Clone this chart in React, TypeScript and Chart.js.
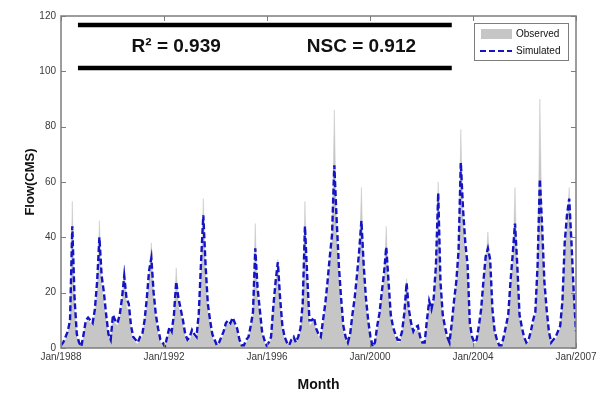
import { useEffect, useRef } from 'react';
import { Chart, registerables } from 'chart.js';

Chart.register(...registerables);

const xTickLabels = ['Jan/1988', 'Jan/1992', 'Jan/1996', 'Jan/2000', 'Jan/2004', 'Jan/2007'];
const seriesNames = ['Observed', 'Simulated'];
const r2Text = 'R\u00B2 = 0.939';
const nscText = 'NSC = 0.912';
const xTitle = 'Month';
const yTitle = 'Flow(CMS)';

// Monthly flow, Jan 1988 .. Jan 2007 (229 months)
const observed = [
  0.5, 1.5, 3, 5, 9, 53, 14, 4, 1.5, 0.5, 4, 9,
  10, 9, 8, 12, 20, 46, 22, 16, 10, 4, 2, 10,
  9, 8, 11, 15, 30, 15, 13, 6, 3, 2, 1.5, 3,
  4, 9, 15, 25, 38, 17, 10, 5, 2, 1.5, 0.5, 3,
  6, 5, 10, 29, 15, 12, 8, 4, 2, 3, 5, 4,
  3, 10, 27, 54, 26, 13, 8, 4, 2, 1, 1.5, 3,
  5, 8, 9, 8, 10, 8, 6, 2, 1, 1, 2, 3,
  7, 11, 45, 18, 11, 5, 2, 1, 1.5, 3, 13, 22,
  32, 15, 6, 3, 1.5, 1, 2, 3, 1.5, 3, 6, 14,
  53, 22, 8, 9, 10, 6, 4, 3, 8, 14, 21, 30,
  38, 86, 42, 26, 15, 6, 3, 1.5, 4, 10, 15, 23,
  31, 58, 26, 15, 8, 3, 0.5, 1.5, 6, 11, 18, 24,
  44, 20, 10, 6, 4, 2, 2, 5, 11, 25, 12, 8,
  5, 6, 7, 3, 1.5, 1.5, 8, 15, 12, 16, 27, 60,
  20, 10, 6, 3, 1.5, 8, 15, 22, 32, 79, 46, 34,
  26, 7, 3, 1.5, 2, 7, 12, 22, 30, 42, 28, 12,
  5, 2, 1, 1, 3, 7, 10, 21, 30, 58, 26, 10,
  6, 3, 1.5, 2, 5, 8, 11, 27, 90, 40, 20, 12,
  5, 1.5, 2, 3, 5, 7, 15, 34, 44, 58, 34, 17,
  5,
];

const simulated = [
  1, 2, 4, 6, 10, 44, 18, 5, 2, 0.5, 5, 10,
  11, 10, 9, 14, 24, 40, 26, 20, 12, 5, 3, 12,
  10, 9, 12, 18, 26, 18, 16, 8, 4, 3, 2, 4,
  5, 10, 18, 28, 32.5, 20, 12, 7, 3, 2, 0.5, 4,
  7.5, 6, 12, 24, 18, 14, 10, 5, 3, 4, 6.5, 5,
  4, 12.6, 31, 48, 30, 16, 10, 5, 3, 1, 2, 4,
  6, 9, 10, 9, 11, 9, 7, 3, 1, 1, 3, 4,
  8, 13, 36, 22, 14, 6, 3, 1, 2, 4, 15, 24,
  31, 18, 8, 4, 2, 1, 3, 4, 2, 4, 7, 16,
  44, 26, 10, 10, 11, 7, 5, 4, 10, 16, 24, 33,
  41, 66, 47, 30, 18, 8, 4, 2, 5, 12, 18, 26,
  35, 46, 30, 18, 10, 4, 0.5, 2, 8, 12.6, 20, 27,
  36.5, 24, 12, 7.6, 5, 3, 3, 6, 12.6, 23.5, 14, 9,
  6, 7.6, 8, 4, 2, 2, 10, 17, 14, 18, 30, 56,
  24, 12, 7.6, 4, 2, 9, 17, 24, 35, 67, 50, 38,
  30, 9, 4, 2, 3, 8, 14, 24, 33, 36, 32, 14,
  6, 3, 1, 1, 4, 8, 12, 24, 34, 45, 30, 12,
  7.6, 4, 2, 3, 6, 10, 13, 30, 61, 44, 24, 14,
  6, 2, 3, 4, 6, 8, 17, 38, 48, 54, 38, 20,
  6,
];

const GREY_FILL = 'rgb(198,198,198)';
const BLUE = '#1414c4';
const AXIS = '#7d7d7d';

const framePlugin = {
  id: 'frame',
  afterDatasetsDraw(chart: any) {
    const { ctx, chartArea: a, scales } = chart;
    const x = scales.x;
    const y = scales.y;
    ctx.save();

    // annotation bars + stats text
    ctx.strokeStyle = '#000';
    ctx.lineWidth = 4.5;
    ctx.lineCap = 'butt';
    const x0 = x.getPixelForValue(7.5);
    const x1 = x.getPixelForValue(173);
    [116.7, 101.2].forEach((v) => {
      const py = Math.round(y.getPixelForValue(v));
      ctx.beginPath();
      ctx.moveTo(x0, py);
      ctx.lineTo(x1, py);
      ctx.stroke();
    });
    ctx.fillStyle = '#111';
    ctx.font = 'bold 19px "Liberation Sans", Arial, sans-serif';
    ctx.textAlign = 'center';
    ctx.textBaseline = 'middle';
    const ty = y.getPixelForValue(108.9);
    ctx.fillText(r2Text, x.getPixelForValue(51), ty);
    ctx.fillText(nscText, x.getPixelForValue(133), ty);

    // frame box
    ctx.strokeStyle = AXIS;
    ctx.lineWidth = 1.5;
    ctx.strokeRect(a.left, a.top, a.right - a.left, a.bottom - a.top);
    ctx.lineWidth = 1;
    ctx.beginPath();
    x.ticks.forEach((t: any) => {
      const px = Math.round(x.getPixelForValue(t.value)) + 0.5;
      ctx.moveTo(px, a.top);
      ctx.lineTo(px, a.top + 5);
      ctx.moveTo(px, a.bottom);
      ctx.lineTo(px, a.bottom - 5);
    });
    y.ticks.forEach((t: any) => {
      const py = Math.round(y.getPixelForValue(t.value)) + 0.5;
      ctx.moveTo(a.left, py);
      ctx.lineTo(a.left + 5, py);
      ctx.moveTo(a.right, py);
      ctx.lineTo(a.right - 5, py);
    });
    ctx.stroke();

    // legend
    const lw = 94;
    const lh = 37;
    const lx = a.right - 8 - lw;
    const ly = a.top + 7;
    ctx.fillStyle = '#fff';
    ctx.fillRect(lx, ly, lw, lh);
    ctx.strokeStyle = AXIS;
    ctx.lineWidth = 1;
    ctx.strokeRect(lx + 0.5, ly + 0.5, lw, lh);
    ctx.fillStyle = GREY_FILL;
    ctx.fillRect(lx + 7, ly + 6, 31, 10);
    ctx.strokeStyle = BLUE;
    ctx.lineWidth = 2;
    ctx.setLineDash([6, 3]);
    ctx.beginPath();
    ctx.moveTo(lx + 6, ly + 28);
    ctx.lineTo(lx + 38, ly + 28);
    ctx.stroke();
    ctx.setLineDash([]);
    ctx.fillStyle = '#111';
    ctx.font = '10px "Liberation Sans", Arial, sans-serif';
    ctx.textAlign = 'left';
    ctx.textBaseline = 'middle';
    ctx.fillText(seriesNames[0], lx + 42, ly + 11);
    ctx.fillText(seriesNames[1], lx + 42, ly + 28);

    ctx.restore();
  },
};

export default function App() {
  const ref = useRef<HTMLCanvasElement | null>(null);

  useEffect(() => {
    if (!ref.current) return;
    const nMax = observed.length - 1;
    const chart = new Chart(ref.current, {
      type: 'line',
      data: {
        datasets: [
          {
            label: seriesNames[1],
            data: simulated.map((v, i) => ({ x: i, y: v })),
            borderColor: BLUE,
            borderWidth: 2.4,
            borderDash: [6, 3],
            pointRadius: 0,
            fill: false,
            tension: 0,
            order: 0,
          },
          {
            label: seriesNames[0],
            data: observed.map((v, i) => ({ x: i, y: v })),
            borderColor: GREY_FILL,
            backgroundColor: GREY_FILL,
            borderWidth: 0.5,
            pointRadius: 0,
            fill: 'origin',
            tension: 0,
            order: 1,
          },
        ],
      },
      options: {
        animation: false,
        responsive: true,
        maintainAspectRatio: false,
        layout: { padding: { left: 0, right: 27, top: 16, bottom: 0 } },
        plugins: { legend: { display: false }, tooltip: { enabled: false } },
        scales: {
          x: {
            type: 'linear',
            min: 0,
            max: nMax,
            afterBuildTicks: (scale: any) => {
              scale.ticks = xTickLabels.map((_, i) => ({ value: (i * nMax) / (xTickLabels.length - 1) }));
            },
            afterFit: (scale: any) => {
              scale.height = 50;
            },
            ticks: {
              autoSkip: false,
              maxRotation: 0,
              padding: 3,
              color: '#3a3a3a',
              font: { family: '"Liberation Sans", Arial, sans-serif', size: 10 },
              callback: (_v: any, i: number) => xTickLabels[i],
            },
            grid: { display: false, drawTicks: false },
            border: { display: false },
            title: {
              display: true,
              text: xTitle,
              color: '#111',
              font: { family: '"Liberation Sans", Arial, sans-serif', size: 14, weight: 'bold' },
              padding: { top: 0, bottom: 4 },
            },
          },
          y: {
            min: 0,
            max: 120,
            afterFit: (scale: any) => {
              scale.width = 61;
            },
            ticks: {
              stepSize: 20,
              padding: 5,
              color: '#3a3a3a',
              font: { family: '"Liberation Sans", Arial, sans-serif', size: 10 },
            },
            grid: { display: false, drawTicks: false },
            border: { display: false },
            title: {
              display: true,
              text: yTitle,
              color: '#111',
              font: { family: '"Liberation Sans", Arial, sans-serif', size: 13, weight: 'bold' },
              padding: { top: 23, bottom: 0 },
            },
          },
        },
      },
      plugins: [framePlugin],
    } as any);
    return () => chart.destroy();
  }, []);

  return (
    <div style={{ position: 'absolute', left: 0, top: 0, width: 603, height: 398, background: '#fff' }}>
      <canvas ref={ref} />
    </div>
  );
}
